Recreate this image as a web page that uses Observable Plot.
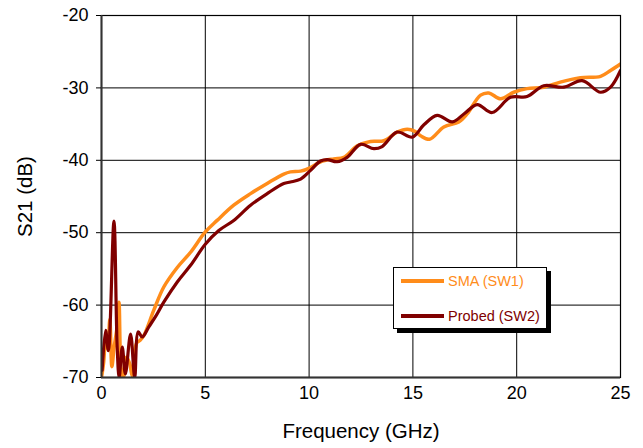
<!DOCTYPE html>
<html>
<head>
<meta charset="utf-8">
<script src="https://cdn.jsdelivr.net/npm/d3@7"></script>
<script src="https://cdn.jsdelivr.net/npm/@observablehq/plot@0.6"></script>
<style>
  html, body { margin: 0; padding: 0; background: #fff; }
  #wrap { position: relative; width: 643px; height: 448px; font-family: "Liberation Sans", Arial, sans-serif; }
  #legend { position: absolute; left: 393px; top: 267px; width: 154px; height: 62px; background: #fff;
            border: 1px solid #000; box-shadow: 4px 4px 0 #000; box-sizing: border-box; }
  .item { position: absolute; left: 7px; height: 16px; display: flex; align-items: center; font-size: 14.5px; white-space: nowrap; }
  .swatch { width: 43px; height: 4px; margin-right: 4px; }
</style>
</head>
<body>
<div id="wrap"></div>
<script>
// Reference data
const xTicks = [0, 5, 10, 15, 20, 25];
const yTicks = [-70, -60, -50, -40, -30, -20];
const seriesNames = ["SMA (SW1)", "Probed (SW2)"];
const seriesColors = ["#FF8C1A", "#800000"];

const freqSMA = [0.0, 0.1, 0.2, 0.3, 0.4, 0.5, 0.6, 0.75, 0.84, 0.95, 1.05, 1.2, 1.35, 1.48, 1.6, 1.7, 1.85, 2.04, 2.52, 3.0, 3.65, 4.29, 5.0, 5.57, 6.37, 7.18, 7.98, 8.78, 9.1, 9.59, 10.07, 10.55, 11.19, 11.67, 12.32, 12.96, 13.6, 14.24, 14.73, 15.1, 15.37, 15.8, 16.49, 17.21, 17.61, 18.26, 18.66, 19.22, 19.86, 20.5, 21.3, 22.1, 23.07, 24.04, 24.52, 25.0];
const sma = [-70, -68, -64.9, -66, -62, -68.5, -66, -63, -59.6, -69, -70, -67.2, -68, -69.8, -66.5, -65.2, -64.9, -64.2, -60.7, -57.5, -54.8, -52.7, -49.9, -48.3, -46.2, -44.6, -43.2, -41.9, -41.6, -41.5, -41.0, -40.2, -39.8, -39.6, -38.0, -37.4, -37.3, -36.1, -35.7, -36.0, -36.6, -37.1, -35.4, -34.7, -33.6, -31.0, -30.7, -31.5, -30.6, -30.1, -29.9, -29.2, -28.6, -28.4, -27.6, -26.7];

const freqProbed = [0.03, 0.2, 0.33, 0.6, 0.75, 0.85, 1.0, 1.15, 1.4, 1.6, 1.77, 1.96, 2.28, 2.6, 3.0, 3.65, 4.29, 5.0, 5.65, 6.37, 7.18, 7.98, 8.78, 9.1, 9.59, 10.07, 10.55, 10.87, 11.35, 11.83, 12.48, 13.12, 13.52, 14.24, 14.97, 15.53, 16.17, 16.9, 17.5, 18.1, 18.82, 19.7, 20.5, 21.3, 22.27, 23.15, 24.04, 24.52, 25.0];
const probed = [-69, -63.5, -66.3, -48.4, -65.3, -70, -65.8, -69.5, -64, -70, -63.7, -64.4, -63, -61.6, -59.6, -56.8, -54.5, -51.6, -49.7, -48.3, -46.2, -44.6, -43.2, -43.0, -42.6, -41.4, -40.1, -39.9, -40.2, -39.6, -37.8, -38.4, -38.1, -36.1, -36.8, -35.1, -33.8, -34.7, -33.5, -32.3, -33.4, -31.3, -31.2, -29.7, -29.9, -29.0, -30.6, -29.9, -27.6];

const dataSMA = freqSMA.map((f, i) => ({f, v: sma[i]}));
const dataProbed = freqProbed.map((f, i) => ({f, v: probed[i]}));

const fmt = d => String(d);

const chart = Plot.plot({
  width: 643,
  height: 448,
  marginLeft: 101,
  marginRight: 23,
  marginTop: 15,
  marginBottom: 71,
  style: {fontFamily: "'Liberation Sans', Arial, sans-serif", fontSize: "18px", color: "#000", background: "#fff"},
  x: {domain: [0, 25]},
  y: {domain: [-70, -20]},
  marks: [
    Plot.gridX(xTicks, {stroke: "#000", strokeOpacity: 1, strokeWidth: 1}),
    Plot.gridY(yTicks, {stroke: "#000", strokeOpacity: 1, strokeWidth: 1}),
    Plot.line(dataSMA, {x: "f", y: "v", stroke: seriesColors[0], strokeWidth: 3.5, curve: "catmull-rom", clip: true}),
    Plot.line(dataProbed, {x: "f", y: "v", stroke: seriesColors[1], strokeWidth: 3.2, curve: "catmull-rom", clip: true}),
    Plot.frame({stroke: "#000", strokeWidth: 1.2}),
    Plot.ruleX([0], {stroke: "#333", strokeWidth: 2}),
    Plot.ruleY([-70], {stroke: "#333", strokeWidth: 2}),
    Plot.axisX(xTicks, {tickSize: 0, tickPadding: 9, tickFormat: fmt, fontSize: 18, label: null}),
    Plot.axisY(yTicks, {tickSize: 5, tickPadding: 8, tickFormat: fmt, fontSize: 18, label: null}),
    Plot.axisX({label: "Frequency (GHz)", labelArrow: "none", labelAnchor: "center", labelOffset: 60, tickSize: 0, ticks: [], fontSize: 20.5}),
    Plot.axisY({label: "S21 (dB)", labelArrow: "none", labelAnchor: "center", labelOffset: 84, tickSize: 0, ticks: [], fontSize: 20.5})
  ]
});
document.getElementById("wrap").appendChild(chart);

const legend = document.createElement("div");
legend.id = "legend";
seriesNames.forEach((name, i) => {
  const item = document.createElement("div");
  item.className = "item";
  item.style.top = (i === 0 ? 5 : 40) + "px";
  item.innerHTML = `<span class="swatch" style="background:${seriesColors[i]}"></span><span style="color:${seriesColors[i]}">${name}</span>`;
  legend.appendChild(item);
});
document.getElementById("wrap").appendChild(legend);
</script>
</body>
</html>
